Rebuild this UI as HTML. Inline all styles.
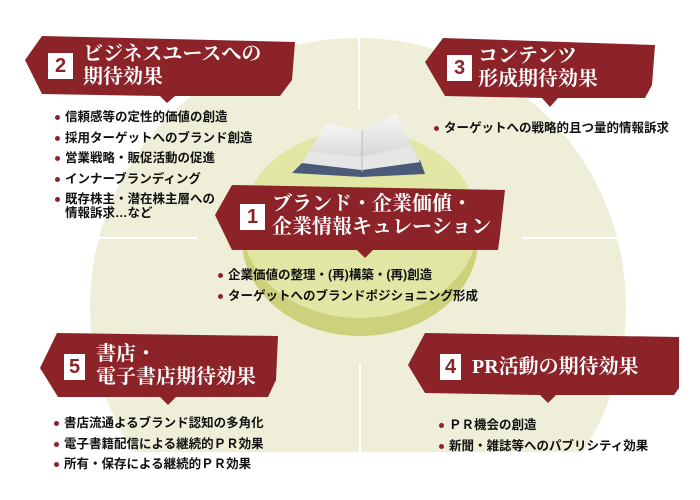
<!DOCTYPE html>
<html><head><meta charset="utf-8"><style>
html,body{margin:0;width:700px;height:500px;overflow:hidden}
body{background:#fff;position:relative;font-family:"Liberation Sans","Noto Sans CJK JP",sans-serif}
.t{position:absolute;color:#fff;font-family:"Liberation Serif","Noto Serif CJK SC",serif;font-weight:bold;font-size:20px;line-height:23px;white-space:nowrap}
.n{position:absolute;background:#fff;color:#8b2329;font-weight:bold;font-size:20px;text-align:center;line-height:26px;width:25px;height:26px}
ul{position:absolute;margin:0;padding:0;list-style:none;font-size:12.5px;font-weight:bold;color:#111;line-height:20.5px;white-space:nowrap}
li{position:relative;padding-left:10px}
li:before{content:"";position:absolute;left:0;top:8px;width:5px;height:5px;border-radius:50%;background:#8b2329}
</style></head><body>
<svg width="700" height="500" style="position:absolute;left:0;top:0">
<defs><clipPath id="c"><rect x="0" y="0" width="700" height="452"/></clipPath>
<linearGradient id="pg" x1="0" y1="0" x2="0" y2="1"><stop offset="0" stop-color="#f6f6f6"/><stop offset="1" stop-color="#cfcfcf"/></linearGradient></defs>
<circle cx="358" cy="306" r="268" fill="#efefd9" clip-path="url(#c)"/>
<ellipse cx="360" cy="240" rx="118" ry="96" fill="#cdd17b"/>
<ellipse cx="360" cy="224" rx="118" ry="94" fill="#e2e6a5"/>
<g stroke="#fff" stroke-width="2"><line x1="359" y1="38" x2="359" y2="110"/><line x1="522" y1="238" x2="620" y2="238"/><line x1="97" y1="238" x2="197" y2="238"/><line x1="360" y1="363" x2="360" y2="452"/></g>
<polygon points="292,173 305,160 420,160 425,174 362,177" fill="#4a5a78"/>
<polygon points="302,163 326,124 362,130 362,170" fill="url(#pg)"/>
<polygon points="362,130 396,113 420,162 362,170" fill="url(#pg)"/>
<polygon points="302,163 308,152 362,157 362,170" fill="#e6e6e6"/>
<polygon points="362,157 410,146 420,162 362,170" fill="#e6e6e6"/>
<line x1="362" y1="130" x2="362" y2="172" stroke="#bbb" stroke-width="1"/>
<g fill="#8b2329">
<polygon points="25,60 42,36 295,42 292,80 280,96 175,96 167,103 160,96 42,94"/>
<polygon points="425,62 443,38 655,45 652,85 645,98 558,98 550,107 542,98 445,96"/>
<polygon points="215,215 232,185 505,190 500,235 498,250 373,250 365,258 357,250 232,250"/>
<polygon points="40,368 57,333 278,336 276,380 268,397 176,397 168,405 160,397 58,397"/>
<polygon points="408,365 425,333 679,337 679,388 674,395 556,395 548,403 540,395 425,393"/>
</g>
</svg>
<div class="n" style="left:48px;top:53px">2</div>
<div class="t" style="left:83px;top:43px">ビジネスユースへの<br>期待効果</div>
<div class="n" style="left:447px;top:55px">3</div>
<div class="t" style="left:478px;top:45px">コンテンツ<br>形成期待効果</div>
<div class="n" style="left:240px;top:204px">1</div>
<div class="t" style="left:272px;top:193px">ブランド・企業価値・<br>企業情報キュレーション</div>
<div class="n" style="left:64px;top:354px;width:21px">5</div>
<div class="t" style="left:96px;top:343px">書店・<br>電子書店期待効果</div>
<div class="n" style="left:440px;top:354px;width:21px">4</div>
<div class="t" style="left:472px;top:356px">PR活動の期待効果</div>
<ul style="left:55px;top:107px"><li>信頼感等の定性的価値の創造</li><li>採用ターゲットへのブランド創造</li><li>営業戦略・販促活動の促進</li><li>インナーブランディング</li><li style="line-height:14px;padding-top:3px">既存株主・潜在株主層への<br>情報訴求…など</li></ul>
<ul style="left:434px;top:118px"><li>ターゲットへの戦略的且つ量的情報訴求</li></ul>
<ul style="left:218px;top:265px"><li>企業価値の整理・(再)構築・(再)創造</li><li>ターゲットへのブランドポジショニング形成</li></ul>
<ul style="left:54px;top:413px"><li>書店流通よるブランド認知の多角化</li><li>電子書籍配信による継続的ＰＲ効果</li><li>所有・保存による継続的ＰＲ効果</li></ul>
<ul style="left:439px;top:415px"><li>ＰＲ機会の創造</li><li>新聞・雑誌等へのパブリシティ効果</li></ul>
</body></html>
